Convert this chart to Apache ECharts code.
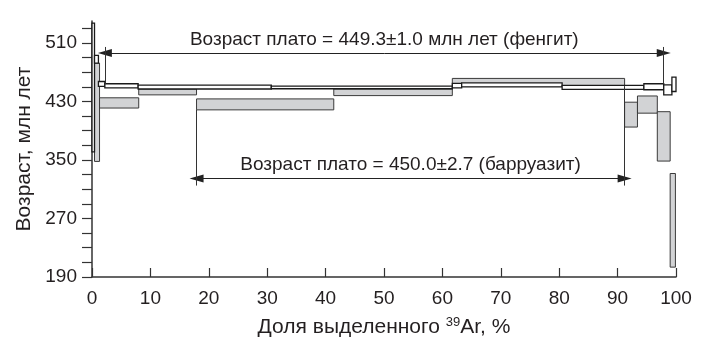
<!DOCTYPE html>
<html><head><meta charset="utf-8">
<script src="https://cdn.jsdelivr.net/npm/echarts@6/dist/echarts.min.js"></script>
<style>html,body{margin:0;padding:0;background:#fff}#c{width:702px;height:348px}</style>
</head><body><div id="c"></div>
<script>
// x-axis ticks (% of 39Ar released)
const xTickValues = [0, 10, 20, 30, 40, 50, 60, 70, 80, 90, 100];
// y-axis labels (Ma)
const yTickLabels = [190, 270, 350, 430, 510];
const yMinorStep = 20;

// Barroisite (gray) heating steps: cumulative % start/end, age low/high (Ma)
const barrStart = [0.43, 1.29, 8.0, 17.9, 41.4, 61.7, 91.2, 93.4, 96.8, 99.0];
const barrEnd   = [1.29, 8.0, 17.9, 41.4, 61.7, 91.2, 93.4, 96.8, 99.0, 99.9];
const barrLow   = [348, 421, 439, 418.5, 438, 451, 395, 414, 348.5, 203.5];
const barrHigh  = [482.5, 435, 447, 433.5, 447, 461.5, 429, 437.5, 416, 331.5];

// Phengite (white) heating steps
const phenStart = [0, 0.43, 1.1, 2.2, 7.9, 30.7, 61.7, 63.3, 80.5, 94.5, 97.9, 99.3];
const phenEnd   = [0.43, 1.1, 2.2, 7.9, 30.7, 61.7, 63.3, 80.5, 94.5, 97.9, 99.3, 100];
const phenLow   = [361, 482.5, 450.5, 448.7, 447, 447.4, 448.7, 450, 446.6, 446, 439, 443.6];
const phenHigh  = [537, 493, 457.3, 454.2, 452.4, 451, 454.6, 455.5, 452, 454.2, 452.8, 463.4];

// Plateau annotations
const plateauText = ['Возраст плато = 449.3±1.0 млн лет (фенгит)', 'Возраст плато = 450.0±2.7 (барруазит)'];
const plateauFrom = [2.2, 17.9];
const plateauTo   = [97.9, 91.2];
const plateauArrowAge = [496.3, 324.8];
const plateauMarkTop    = [[504.5, 504.5], [418.5, 451]];
const plateauMarkBottom = [[454, 454], [315, 315]];

const FONT = "'Liberation Sans', Arial, Helvetica, sans-serif";
const TXT = '#231f20';

function boxRender(fill, stroke, lw) {
  return function (params, api) {
    const p0 = api.coord([api.value(0), api.value(3)]);
    const p1 = api.coord([api.value(1), api.value(2)]);
    return {
      type: 'rect',
      shape: { x: p0[0], y: p0[1], width: p1[0] - p0[0], height: p1[1] - p0[1] },
      style: { fill: fill, stroke: stroke, lineWidth: lw }
    };
  };
}

const yMinorTicks = [];
for (let v = yTickLabels[0]; v <= 530; v += yMinorStep) yMinorTicks.push(v);

const arrowData = plateauText.map((t, i) => [
  { coord: [plateauFrom[i], plateauArrowAge[i]], label: { formatter: t } },
  { coord: [plateauTo[i], plateauArrowAge[i]] }
]);
const markData = [];
plateauText.forEach((t, i) => {
  markData.push([{ coord: [plateauFrom[i], plateauMarkTop[i][0]] }, { coord: [plateauFrom[i], plateauMarkBottom[i][0]] }]);
  markData.push([{ coord: [plateauTo[i], plateauMarkTop[i][1]] }, { coord: [plateauTo[i], plateauMarkBottom[i][1]] }]);
});

const chart = echarts.init(document.getElementById('c'), null, { renderer: 'canvas' });
chart.setOption({
  animation: false,
  backgroundColor: '#fff',
  grid: { left: 92, right: 26, top: 21, bottom: 71 },
  xAxis: {
    type: 'value', min: 0, max: 100, interval: 10,
    axisLine: { show: true, lineStyle: { color: '#333', width: 1.5 } },
    axisTick: { show: true, inside: true, length: 9, customValues: xTickValues, lineStyle: { color: '#333', width: 1.2 } },
    axisLabel: { margin: 12, fontSize: 19, color: TXT, fontFamily: FONT, customValues: xTickValues },
    splitLine: { show: false },
    name: '{a|Доля выделенного }{s|39}{a|Ar, %}',
    nameLocation: 'middle', nameGap: 37,
    nameTextStyle: {
      rich: {
        a: { fontSize: 21, color: TXT, fontFamily: FONT, lineHeight: 26 },
        s: { fontSize: 13, color: TXT, fontFamily: FONT, padding: [0, 0, 10, 0], lineHeight: 26 }
      }
    }
  },
  yAxis: {
    type: 'value', min: 190, max: 540,
    axisLine: { show: true, lineStyle: { color: '#333', width: 1.5 } },
    axisTick: { show: true, inside: false, length: 10, customValues: yMinorTicks, lineStyle: { color: '#333', width: 1.2 } },
    axisLabel: { margin: 15, fontSize: 19, color: TXT, fontFamily: FONT, customValues: yTickLabels },
    splitLine: { show: false },
    name: 'Возраст, млн лет', nameLocation: 'middle', nameGap: 56,
    nameTextStyle: { fontSize: 21, color: TXT, fontFamily: FONT }
  },
  series: [
    {
      type: 'custom', name: 'барруазит', silent: true,
      renderItem: boxRender('#d2d3d5', '#3a3a3a', 1),
      encode: { x: [0, 1], y: [2, 3] },
      data: barrStart.map((s, i) => [s, barrEnd[i], barrLow[i], barrHigh[i]]),
      z: 2
    },
    {
      type: 'custom', name: 'фенгит', silent: true,
      renderItem: boxRender('#ffffff', '#1a1a1a', 1.3),
      encode: { x: [0, 1], y: [2, 3] },
      data: phenStart.map((s, i) => [s, phenEnd[i], phenLow[i], phenHigh[i]]),
      z: 3
    },
    {
      type: 'line', data: [], silent: true, z: 4,
      markLine: {
        silent: true, animation: false,
        symbol: ['triangle', 'triangle'], symbolSize: [8, 14],
        lineStyle: { color: '#222', width: 1, type: 'solid' },
        label: { show: true, position: 'middle', distance: 4, color: TXT, fontSize: 19, fontFamily: FONT },
        emphasis: { disabled: true },
        data: arrowData
      }
    },
    {
      type: 'line', data: [], silent: true, z: 4,
      markLine: {
        silent: true, animation: false,
        symbol: ['none', 'none'],
        lineStyle: { color: '#333', width: 1, type: 'solid' },
        label: { show: false },
        emphasis: { disabled: true },
        data: markData
      }
    }
  ]
});
</script>
</body></html>
